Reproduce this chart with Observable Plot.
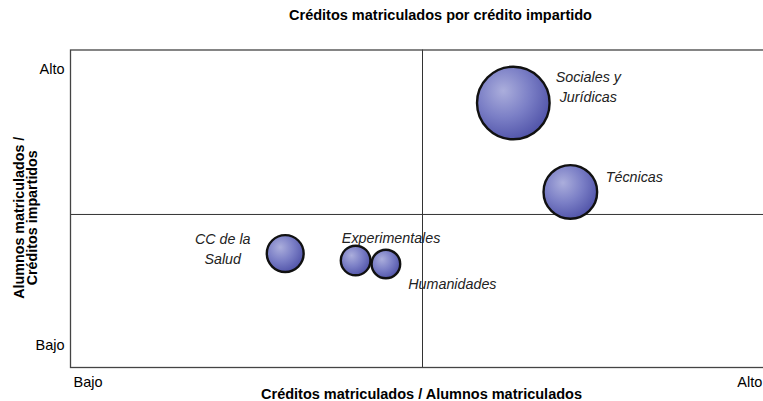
<!DOCTYPE html>
<html><head><meta charset="utf-8">
<script src="https://cdn.jsdelivr.net/npm/d3@7"></script>
<script src="https://cdn.jsdelivr.net/npm/@observablehq/plot@0.6"></script>
<style>html,body{margin:0;padding:0;overflow:hidden;background:#fff;width:763px;height:401px}
#chart svg{max-width:none !important;}</style>
</head><body><div id="chart"></div>
<script>
// ---- data ----
const categories = ["Sociales y Jurídicas", "Técnicas", "CC de la Salud", "Experimentales", "Humanidades"];
const creditosPorAlumno = [62.9, 71.0, 30.5, 40.5, 44.8];   // x: Créditos matriculados / Alumnos matriculados
const alumnosPorCredito = [83.3, 55.3, 35.9, 33.7, 32.6];   // y: Alumnos matriculados / Créditos impartidos
const tamano = [1320, 720, 340, 220, 205];                  // bubble size
const etiquetas = ["Sociales y\nJurídicas", "Técnicas", "CC de la\nSalud", "Experimentales", "Humanidades"];
const xTickValues = [0, 94.3];
const xTickLabels = ["Bajo", "Alto"];
const yTickValues = [7, 94];
const yTickLabels = ["Bajo", "Alto"];
const umbralX = 50;
const umbralY = 48.2;

const data = categories.map((c, i) => ({name: c, x: creditosPorAlumno[i], y: alumnosPorCredito[i], r: tamano[i], label: etiquetas[i]}));

// label offsets (layout)
const labelOffset = {
  "Sociales y Jurídicas": [75, -17.5],
  "Técnicas": [64, -16.5],
  "CC de la Salud": [-62.5, -6],
  "Experimentales": [35.5, -23.5],
  "Humanidades": [66.5, 18.5]
};

const font = "'Liberation Sans', Arial, sans-serif";

const chart = Plot.plot({
  width: 780,
  height: 401,
  marginLeft: 70,
  marginRight: 6,
  marginTop: 49.5,
  marginBottom: 34,
  style: {fontFamily: font, fontSize: "14px", background: "white", color: "#000", overflow: "visible", maxWidth: "none"},
  x: {domain: [0, 100]},
  y: {domain: [0, 100]},
  r: {type: "sqrt", domain: [0, 1320], range: [0, 36.3]},
  marks: [
    Plot.ruleX([umbralX], {stroke: "#333", strokeWidth: 1}),
    Plot.ruleY([umbralY], {stroke: "#333", strokeWidth: 1}),
    Plot.frame({stroke: "#444", strokeWidth: 1.3}),
    Plot.axisX({ticks: xTickValues, tickFormat: d => xTickLabels[xTickValues.indexOf(d)], tickSize: 0, tickPadding: 9, textAnchor: "start", dx: 3, label: null, fontSize: 14.5}),
    Plot.axisY({ticks: yTickValues, tickFormat: d => yTickLabels[yTickValues.indexOf(d)], tickSize: 0, tickPadding: 6, label: null, fontSize: 14.5}),
    Plot.dot(data, {x: "x", y: "y", r: "r", fill: "url(#bubbleGrad)", stroke: "#111", strokeWidth: 2.4}),
    ...categories.map(c => Plot.text(data.filter(d => d.name === c), {
      x: "x", y: "y", text: "label", fontStyle: "italic", fontSize: 14.3, lineHeight: 1.4,
      dx: labelOffset[c][0], dy: labelOffset[c][1], fill: "#222"
    })),
    Plot.text(["Créditos matriculados por crédito impartido"], {frameAnchor: "top", lineAnchor: "middle", textAnchor: "middle", dx: 18, dy: -34.5, fontWeight: "bold", fontSize: 14.5, text: d => d}),
    Plot.text(["Créditos matriculados / Alumnos matriculados"], {frameAnchor: "bottom", lineAnchor: "middle", textAnchor: "middle", dx: -1, dy: 26.5, fontWeight: "bold", fontSize: 14.5, text: d => d}),
    Plot.text(["Alumnos matriculados /\nCréditos impartidos"], {frameAnchor: "left", rotate: -90, textAnchor: "middle", lineAnchor: "middle", dx: -44, dy: 9, fontWeight: "bold", fontSize: 14.3, lineHeight: 0.93, text: d => d})
  ]
});

// radial gradient for bubbles
const svgNS = "http://www.w3.org/2000/svg";
const defs = document.createElementNS(svgNS, "defs");
defs.innerHTML = `<radialGradient id="bubbleGrad" cx="0.38" cy="0.36" r="0.65" fx="0.36" fy="0.33">
  <stop offset="0%" stop-color="#abaedc"/>
  <stop offset="55%" stop-color="#7b7fc6"/>
  <stop offset="100%" stop-color="#5457ab"/>
</radialGradient>`;
chart.insertBefore(defs, chart.firstChild);
chart.style.maxWidth = "none";
document.getElementById("chart").appendChild(chart);
</script>
</body></html>
